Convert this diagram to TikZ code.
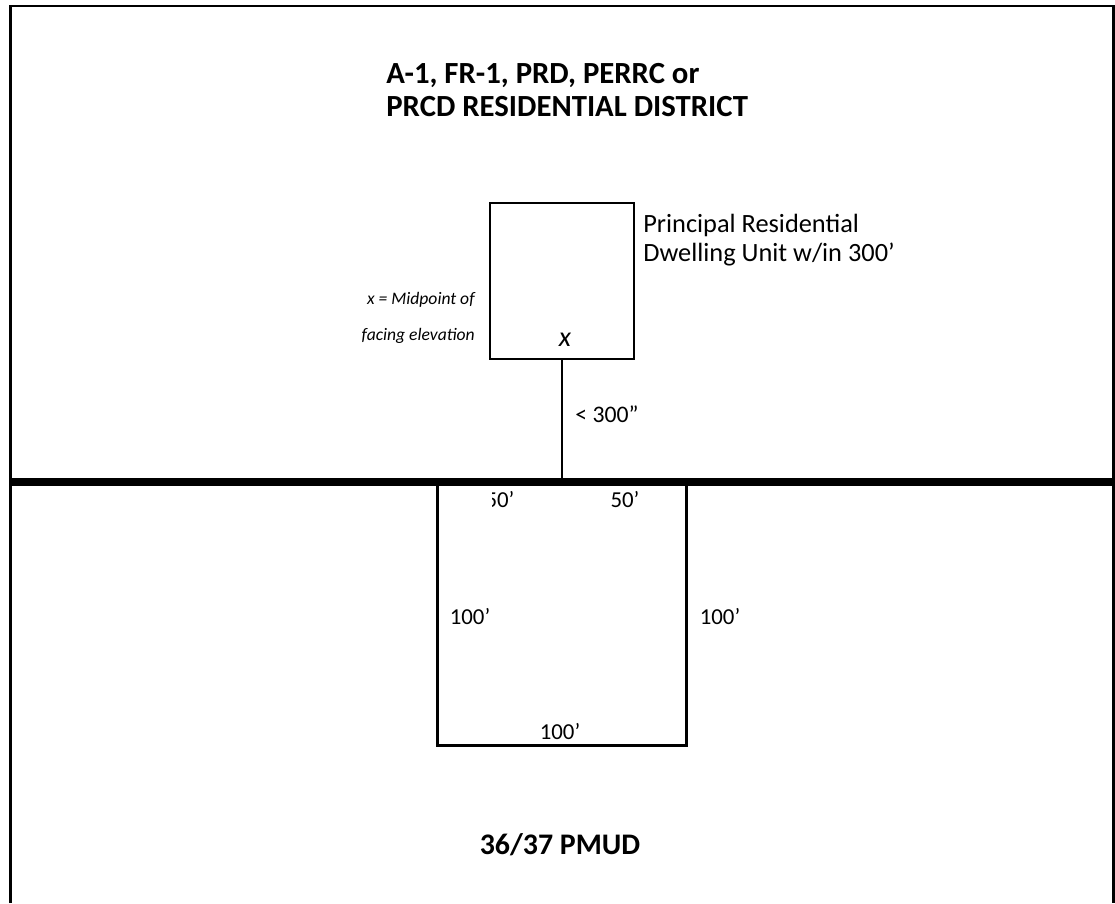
\documentclass[tikz,border=0pt]{standalone}
\usepackage{fontspec}
\setmainfont{Carlito}
\usetikzlibrary{positioning}

\begin{document}
\begin{tikzpicture}[
  x=0.02cm, y=-0.02cm,
  every node/.style={font=\fontsize{15}{16.4}\selectfont, inner sep=0pt},
  title/.style={font=\fontsize{17.5}{19.3}\selectfont\bfseries, align=left},
  house/.style={rectangle, draw, line width=1.1pt, minimum width=2.88cm, minimum height=3.12cm},
  lot/.style={rectangle, draw, line width=1.7pt, minimum width=5cm, minimum height=5.28cm},
  dim/.style={font=\fontsize{13}{15}\selectfont}
  ]
\useasboundingbox (0,0) rectangle (1115,903);

% Frame and district line
\draw[line width=1.4pt] (10.5,903) -- (10.5,6) -- (1113.5,6) -- (1113.5,903);
\coordinate (westend) at (10.5,482);
\coordinate (eastend) at (1113.5,482);
\coordinate (lotline) at (562,482);

% Nodes
\node[title, anchor=west] (district) at (386,90) {A-1, FR-1, PRD, PERRC or\\PRCD RESIDENTIAL DISTRICT};
\node[house] (dwelling) at (562,281) {};
\node[align=left, anchor=west] (dwellinglabel) at (643,240) {Principal Residential\\Dwelling Unit w/in 300’};
\node[align=right, anchor=east, font=\fontsize{10}{20.4}\selectfont\itshape] (midlabel) at (475,318) {x = Midpoint of\\facing elevation};
\node[font=\fontsize{16}{18}\selectfont\itshape] (midpoint) at (565,340) {x};
\node[lot] (parcel) at (562,614) {};
\node[dim, anchor=west, font=\fontsize{13.5}{15}\selectfont] (distlabel) at (575,414) {< 300”};
\begin{scope}
  \clip (492,485) rectangle (530,520);
  \node[dim] (frontleft) at (500,500) {50’};
\end{scope}
\node[dim] (frontright) at (625,500) {50’};
\node[dim] (sideleft) at (470,617) {100’};
\node[dim] (sideright) at (720,617) {100’};
\node[dim] (rear) at (560,732) {100’};
\node[title, font=\fontsize{17}{19}\selectfont\bfseries] (pmud) at (560,845) {36/37 PMUD};

% Lines
\draw[line width=1.1pt] (dwelling.south) -- (lotline);
\draw[line width=4.4pt] (westend) -- (eastend);

\end{tikzpicture}
\end{document}
